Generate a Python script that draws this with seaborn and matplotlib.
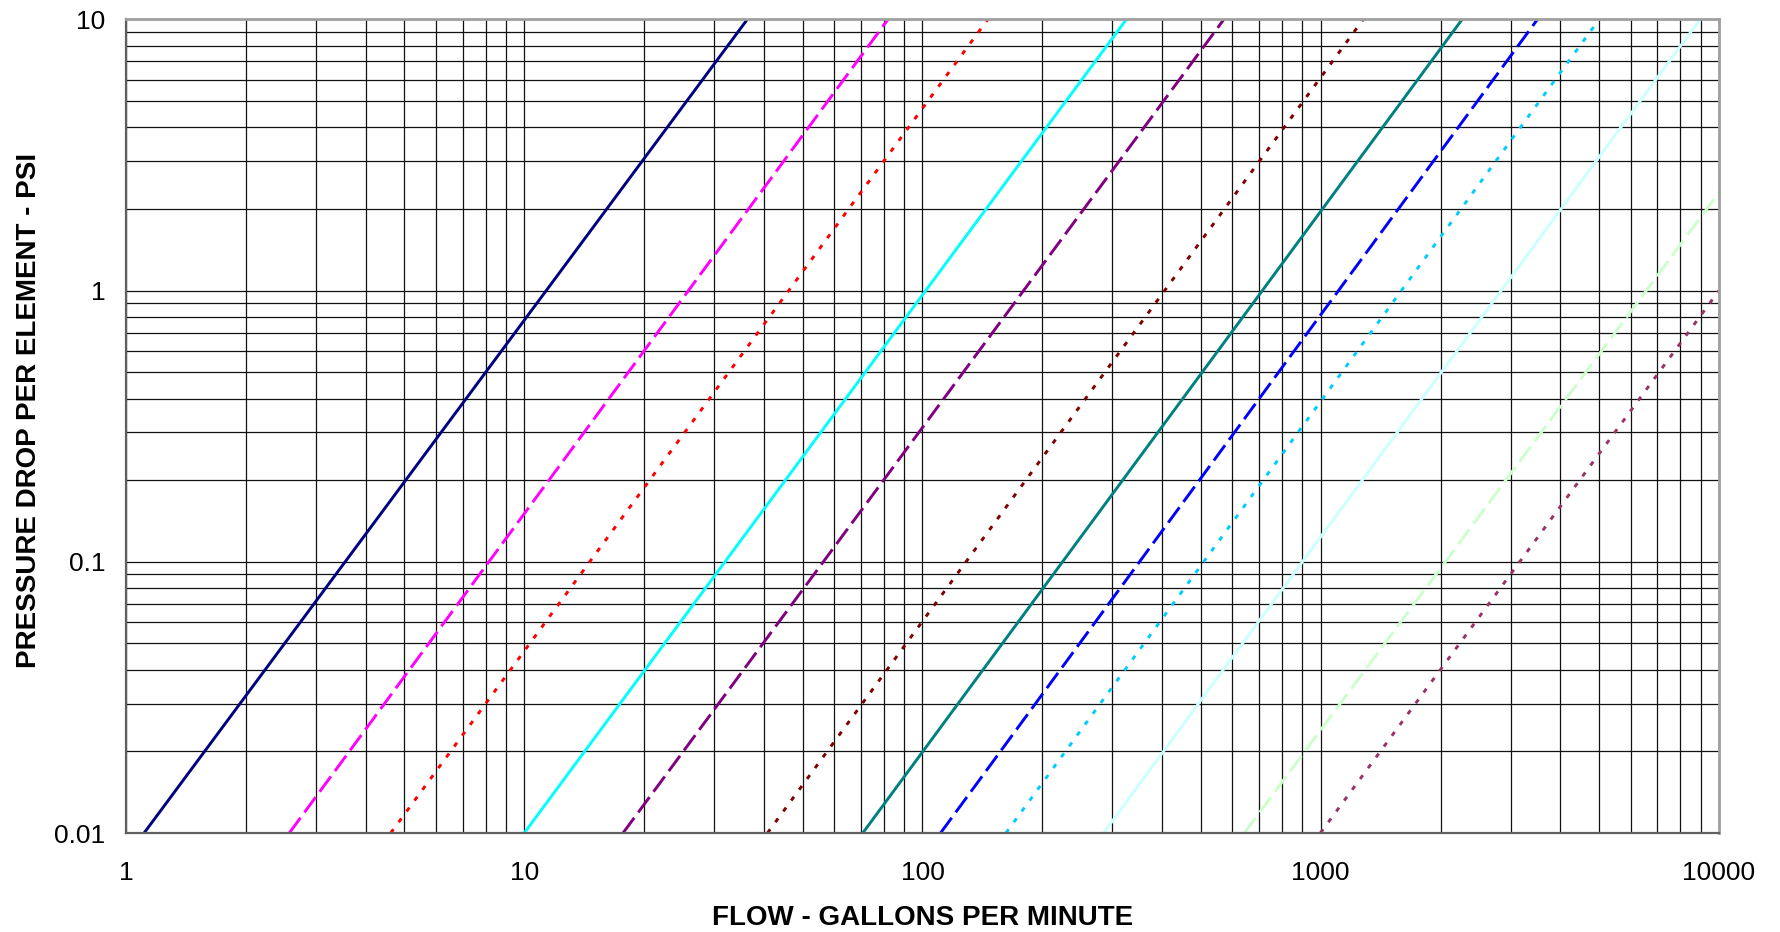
import numpy as np
import pandas as pd
import matplotlib
matplotlib.use('Agg')
import matplotlib.pyplot as plt
import matplotlib.ticker as mticker
import seaborn as sns

# curves: where each one enters and leaves the plot area
curves = ['c1', 'c2', 'c3', 'c4', 'c5', 'c6', 'c7', 'c8', 'c9', 'c10', 'c11', 'c12']
flow_start = [1.11, 2.57, 4.62, 10.0, 17.7, 40.8, 70.8, 111.0, 162.0, 285.0, 643.0, 998.0]
psi_start = [0.01, 0.01, 0.01, 0.01, 0.01, 0.01, 0.01, 0.01, 0.01, 0.01, 0.01, 0.01]
flow_end = [36.3, 81.9, 145.8, 325.0, 571.0, 1278.0, 2264.0, 3500.0, 5000.0, 8960.0, 10000.0, 10000.0]
psi_end = [10, 10, 10, 10, 10, 10, 10, 10, 10, 10, 2.3, 1.0]

colors = ['#000080', '#FF00FF', '#FF0000', '#00FFFF', '#800080', '#800000',
          '#008080', '#0000FF', '#00CCFF', '#CCFFFF', '#CCFFCC', '#993366']
styles = ['solid', 'dash', 'dot', 'solid', 'dash', 'dot',
          'solid', 'dash', 'dot', 'solid', 'dash', 'dot']

x_ticks = [1, 10, 100, 1000, 10000]
y_ticks = [0.01, 0.1, 1, 10]

rows = []
for i, c in enumerate(curves):
    rows.append({'curve': c, 'flow': flow_start[i], 'psi': psi_start[i]})
    rows.append({'curve': c, 'flow': flow_end[i], 'psi': psi_end[i]})
df = pd.DataFrame(rows)

dash_map = {'solid': '', 'dash': (6.5, 2.3), 'dot': (1.6, 3.0)}
palette = dict(zip(curves, colors))
dashes = {c: dash_map[s] for c, s in zip(curves, styles)}

sns.set_style('white')
plt.rcParams['font.family'] = ['Liberation Sans', 'DejaVu Sans']
plt.rcParams['text.color'] = 'black'
plt.rcParams['axes.labelcolor'] = 'black'

fig = plt.figure(figsize=(17.8, 9.32), dpi=100)
ax = fig.add_axes([0.0708, 0.1062, 0.8949, 0.8729])
ax.set_xscale('log')
ax.set_yscale('log')

sns.lineplot(data=df, x='flow', y='psi', hue='curve', style='curve',
             palette=palette, dashes=dashes, estimator=None, sort=False,
             linewidth=2.1, legend=False, ax=ax)

ax.set_xlim(1, 10000)
ax.set_ylim(0.01, 10)

ax.xaxis.set_major_locator(mticker.FixedLocator(x_ticks))
ax.yaxis.set_major_locator(mticker.FixedLocator(y_ticks))
ax.xaxis.set_minor_locator(mticker.LogLocator(base=10, subs=np.arange(2, 10), numticks=100))
ax.yaxis.set_minor_locator(mticker.LogLocator(base=10, subs=np.arange(2, 10), numticks=100))
fmt = mticker.FuncFormatter(lambda v, p: f'{v:g}')
ax.xaxis.set_major_formatter(fmt)
ax.yaxis.set_major_formatter(fmt)
ax.xaxis.set_minor_formatter(mticker.NullFormatter())
ax.yaxis.set_minor_formatter(mticker.NullFormatter())

ax.grid(True, which='both', color='#111111', linewidth=0.9)
ax.set_axisbelow(True)

ax.tick_params(which='major', direction='out', length=6, width=1.2, color='#808080',
               labelsize=19, labelcolor='black')
ax.tick_params(axis='x', which='major', pad=14)
ax.tick_params(axis='y', which='major', pad=9)
ax.tick_params(which='minor', length=0)

for side in ['left', 'bottom']:
    ax.spines[side].set_color('#606060')
    ax.spines[side].set_linewidth(1.6)
for side in ['top', 'right']:
    ax.spines[side].set_color('#a0a0a0')
    ax.spines[side].set_linewidth(2.0)

ax.set_xlabel('FLOW - GALLONS PER MINUTE', fontsize=20, fontweight='bold', color='black')
ax.set_ylabel('PRESSURE DROP PER ELEMENT - PSI', fontsize=20, fontweight='bold', color='black')
ax.xaxis.set_label_coords(0.5, -0.089)
ax.yaxis.set_label_coords(-0.053, 0.52)

fig.savefig('out.png', dpi=100)
